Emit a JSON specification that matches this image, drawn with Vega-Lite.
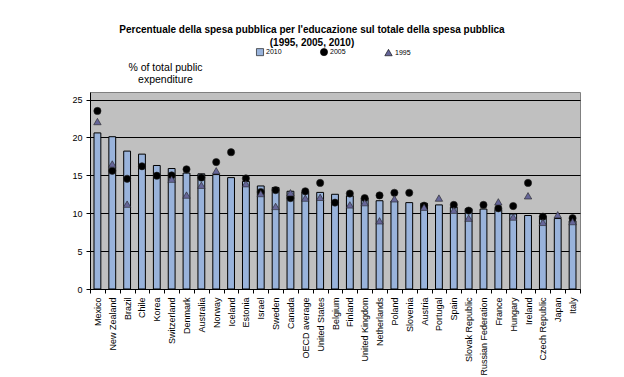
{
  "$schema": "https://vega.github.io/schema/vega-lite/v6.json",
  "autosize": "none",
  "width": 490,
  "height": 197,
  "padding": {"left": 90, "top": 92, "right": 44, "bottom": 88},
  "background": "white",
  "title": {
    "text": ["Percentuale della spesa pubblica per l'educazione sul totale della spesa pubblica", "(1995, 2005, 2010)"],
    "font": "Liberation Sans",
    "fontSize": 10,
    "fontWeight": "bold",
    "color": "black",
    "anchor": "middle",
    "frame": "group",
    "dx": -23,
    "offset": 0,
    "lineHeight": 13
  },
  "config": {
    "view": {"fill": "#C0C0C0", "stroke": "#808080", "strokeWidth": 1},
    "font": "Liberation Sans"
  },
  "data": {
    "values": [
      {"country": "Mexico", "2010": 20.6, "2005": 23.5, "1995": 22.1},
      {"country": "New Zealand", "2010": 20.1, "2005": 15.6, "1995": 16.5},
      {"country": "Brazil", "2010": 18.2, "2005": 14.55, "1995": 11.2},
      {"country": "Chile", "2010": 17.8, "2005": 16.2, "1995": null},
      {"country": "Korea", "2010": 16.3, "2005": 14.95, "1995": null},
      {"country": "Switzerland", "2010": 15.9, "2005": 15.0, "1995": 14.5},
      {"country": "Denmark", "2010": 15.3, "2005": 15.8, "1995": 12.4},
      {"country": "Australia", "2010": 15.2, "2005": 14.7, "1995": 13.7},
      {"country": "Norway", "2010": 15.1, "2005": 16.75, "1995": 15.6},
      {"country": "Iceland", "2010": 14.7, "2005": 18.05, "1995": null},
      {"country": "Estonia", "2010": 14.2, "2005": 14.6, "1995": 13.9},
      {"country": "Israel", "2010": 13.6, "2005": 12.8, "1995": 12.6},
      {"country": "Sweden", "2010": 13.4, "2005": 13.05, "1995": 10.9},
      {"country": "Canada", "2010": 12.9, "2005": 12.0, "1995": 12.7},
      {"country": "OECD average", "2010": 12.8, "2005": 12.9, "1995": 12.0},
      {"country": "United States", "2010": 12.75, "2005": 14.0, "1995": 12.1},
      {"country": "Belgium", "2010": 12.5, "2005": 11.4, "1995": null},
      {"country": "Finland", "2010": 12.3, "2005": 12.6, "1995": 11.1},
      {"country": "United Kingdom", "2010": 12.0, "2005": 12.0, "1995": 11.4},
      {"country": "Netherlands", "2010": 11.65, "2005": 12.35, "1995": 9.0},
      {"country": "Poland", "2010": 11.6, "2005": 12.7, "1995": 11.9},
      {"country": "Slovenia", "2010": 11.4, "2005": 12.7, "1995": null},
      {"country": "Austria", "2010": 11.3, "2005": 11.0, "1995": 10.8},
      {"country": "Portugal", "2010": 11.1, "2005": null, "1995": 12.0},
      {"country": "Spain", "2010": 10.8, "2005": 11.1, "1995": 10.4},
      {"country": "Slovak Republic", "2010": 10.6, "2005": 10.35, "1995": 9.35},
      {"country": "Russian Federation", "2010": 10.55, "2005": 11.1, "1995": null},
      {"country": "France", "2010": 10.5, "2005": 10.65, "1995": 11.5},
      {"country": "Hungary", "2010": 9.9, "2005": 10.95, "1995": 9.5},
      {"country": "Ireland", "2010": 9.7, "2005": 14.0, "1995": 12.3},
      {"country": "Czech Republic", "2010": 9.6, "2005": 9.55, "1995": 8.8},
      {"country": "Japan", "2010": 9.3, "2005": null, "1995": 9.8},
      {"country": "Italy", "2010": 9.0, "2005": 9.35, "1995": 8.9}
    ]
  },
  "encoding": {
    "x": {
      "field": "country",
      "type": "nominal",
      "sort": null,
      "scale": {"paddingInner": 0, "paddingOuter": 0},
      "axis": {
        "title": null,
        "labelAngle": -90,
        "labelAlign": "right",
        "labelBaseline": "middle",
        "labelFontSize": 9,
        "labelColor": "black",
        "labelPadding": 4,
        "ticks": true,
        "tickColor": "black",
        "tickSize": 4,
        "tickBand": "extent",
        "domainColor": "black",
        "labelOverlap": false
      }
    },
    "y": {
      "field": "value",
      "type": "quantitative",
      "scale": {"domain": [0, 26], "nice": false},
      "axis": {
        "values": [0, 5, 10, 15, 20, 25],
        "grid": true,
        "gridColor": "black",
        "gridWidth": 1,
        "gridOpacity": 1,
        "domainColor": "black",
        "tickColor": "black",
        "tickSize": 4,
        "labelColor": "black",
        "labelFontSize": 9,
        "labelPadding": 4,
        "title": ["% of total public", "expenditure"],
        "titleAngle": 0,
        "titleX": 75,
        "titleY": -30,
        "titleAlign": "center",
        "titleBaseline": "top",
        "titleFontSize": 10.5,
        "titleFontWeight": "normal",
        "titleColor": "black",
        "titleLineHeight": 12
      }
    },
    "color": {
      "field": "year",
      "type": "nominal",
      "scale": {"domain": ["2010", "2005", "1995"], "range": ["#99B3DB", "#000000", "#666699"]},
      "legend": {
        "title": null,
        "orient": "none",
        "legendX": 166,
        "legendY": -44,
        "direction": "horizontal",
        "labelFontSize": 7,
        "labelColor": "black",
        "symbolSize": 30,
        "symbolStrokeColor": "black",
        "symbolStrokeWidth": 0.6,
        "columnPadding": 37,
        "labelOffset": 2
      }
    }
  },
  "layer": [
    {
      "transform": [{"fold": ["2010"], "as": ["year", "value"]}],
      "mark": {"type": "bar", "width": {"band": 0.46}, "stroke": "black", "strokeWidth": 1},
      "encoding": {}
    },
    {
      "transform": [{"fold": ["2005", "1995"], "as": ["year", "value"]}],
      "mark": {"type": "point", "filled": true, "opacity": 1, "stroke": "#222222", "strokeWidth": 0.6},
      "encoding": {
        "shape": {
          "field": "year",
          "type": "nominal",
          "scale": {"domain": ["2010", "2005", "1995"], "range": ["square", "circle", "triangle-up"]}
        },
        "size": {
          "field": "year",
          "type": "nominal",
          "scale": {"domain": ["2010", "2005", "1995"], "range": [50, 55, 75]},
          "legend": null
        }
      }
    }
  ]
}
